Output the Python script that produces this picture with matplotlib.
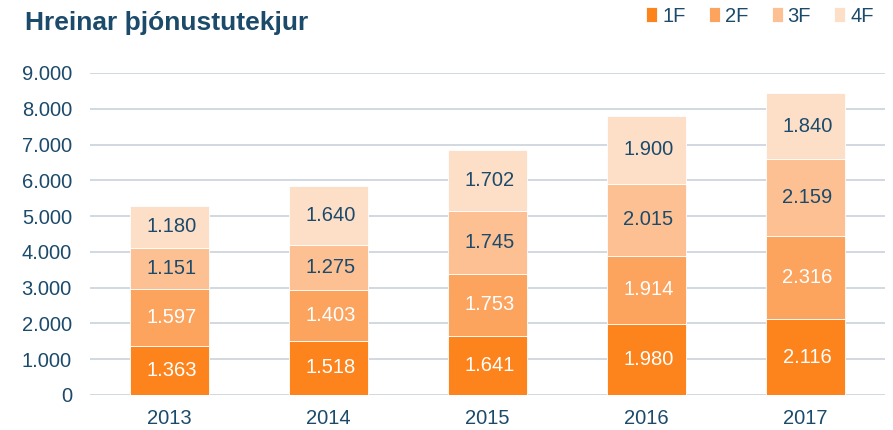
import matplotlib
matplotlib.use('Agg')
import matplotlib.pyplot as plt
import numpy as np

# ---- Données ----
annees = ['2013', '2014', '2015', '2016', '2017']
series = ['1F', '2F', '3F', '4F']
v1F = [1363, 1518, 1641, 1980, 2116]
v2F = [1597, 1403, 1753, 1914, 2316]
v3F = [1151, 1275, 1745, 2015, 2159]
v4F = [1180, 1640, 1702, 1900, 1840]

couleurs = ['#FD841C', '#FCA35E', '#FDC093', '#FDDFC8']
couleurs_txt = ['white', 'white', '#1B4A6B', '#1B4A6B']
bleu = '#1B4A6B'

plt.rcParams['font.family'] = ['Liberation Sans', 'DejaVu Sans']

fig = plt.figure(figsize=(8.93, 4.30), dpi=100)
ax = fig.add_axes([90 / 893, 35 / 430, 795 / 893, 322 / 430])

x = np.arange(len(annees))
bas = np.zeros(len(annees))
for nom, vals, c, ct in zip(series, [v1F, v2F, v3F, v4F], couleurs, couleurs_txt):
    ax.bar(x, vals, 0.5, bottom=bas, color=c, label=nom,
           edgecolor='white', linewidth=0.6, zorder=3)
    for xi, b, v in zip(x, bas, vals):
        ax.text(xi + 0.012, b + v / 2, f'{v / 1000:.3f}', ha='center', va='center',
                color=ct, fontsize=14.5, zorder=4)
    bas += vals

ax.set_xlim(-0.5, 4.5)
ax.set_ylim(0, 9000)
ax.set_yticks(range(0, 9001, 1000))
ax.set_yticklabels(['0'] + [f'{k}.000' for k in range(1, 10)])
ax.set_xticks(x)
ax.set_xticklabels(annees)
ax.tick_params(axis='both', length=0, labelsize=14.5, colors=bleu)
ax.tick_params(axis='y', pad=13)
ax.tick_params(axis='x', pad=10)
ax.grid(axis='y', color='#C9D2DC', linewidth=1.2, zorder=0)
for s in ax.spines.values():
    s.set_visible(False)

fig.text(25 / 893, 1 - 23 / 430, 'Hreinar þjónustutekjur', fontsize=19,
         fontweight='bold', color=bleu, va='center', ha='left')

leg = fig.legend(loc='center right', bbox_to_anchor=(886 / 893, 1 - 16 / 430),
                 ncol=4, frameon=False, fontsize=14.5, handlelength=0.55,
                 handleheight=0.8, handletextpad=0.25, columnspacing=1.15,
                 borderpad=0.1)
for t in leg.get_texts():
    t.set_color(bleu)

fig.savefig('out.png', dpi=100)
